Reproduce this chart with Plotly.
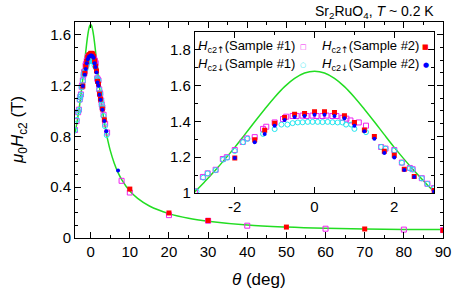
import plotly.graph_objects as go

# ---------------- data ----------------
# fitted (green) curve
theta_fit = [-4.0, -3.5, -3.0, -2.75, -2.5, -2.25, -2.0, -1.75, -1.5, -1.25, -1.0, -0.75, -0.5, -0.25, 0.0,
             0.25, 0.5, 0.75, 1.0, 1.25, 1.5, 1.75, 2.0, 2.25, 2.5, 2.75, 3.0, 3.5, 4.0, 4.5, 5.0, 6.0, 7.0,
             8.0, 10.0, 12.0, 15.0, 20.0, 25.0, 30.0, 40.0, 50.0, 60.0, 70.0, 80.0, 90.0]
hc2_fit = [0.824, 0.909, 1.008, 1.064, 1.124, 1.188, 1.255, 1.326, 1.398, 1.468, 1.535, 1.594, 1.640, 1.670, 1.680,
           1.670, 1.640, 1.594, 1.535, 1.468, 1.398, 1.326, 1.255, 1.188, 1.124, 1.064, 1.008, 0.909, 0.824, 0.752, 0.690, 0.591, 0.515,
           0.456, 0.370, 0.312, 0.252, 0.192, 0.155, 0.132, 0.102, 0.086, 0.076, 0.070, 0.067, 0.066]

# Hc2 up, sample #1 (magenta open squares)
theta_up1 = [-4.0, -3.6, -3.2, -3.0, -2.8, -2.68, -2.48, -2.3, -2.2, -2.0, -1.8, -1.7, -1.5, -1.29, -1.21, -1.0,
             -0.79, -0.71, -0.55, -0.45, -0.3, -0.2, -0.05, 0.05, 0.2, 0.3, 0.45, 0.55, 0.7, 0.8, 0.9, 1.11, 1.29,
             1.67, 1.78, 2.0, 2.19, 2.39, 2.46, 2.69, 2.83, 3.0, 3.3, 3.7, 4.2, 7.9, 10, 20, 30, 40, 60, 80, 90]
hc2_up1 = [0.85, 0.92, 0.99, 1.01, 1.09, 1.11, 1.13, 1.19, 1.20, 1.24, 1.285, 1.305, 1.312, 1.358, 1.37, 1.394,
           1.413, 1.426, 1.43, 1.43, 1.432, 1.43, 1.432, 1.43, 1.43, 1.432, 1.43, 1.43, 1.42, 1.415, 1.405, 1.394, 1.376,
           1.257, 1.248, 1.24, 1.17, 1.14, 1.133, 1.083, 1.052, 1.028, 0.97, 0.90, 0.83, 0.45, 0.358, 0.18, 0.136, 0.097, 0.073, 0.066, 0.062]

# Hc2 down, sample #1 (cyan open circles)
theta_dn1 = [-4.0, -3.5, -3.2, -2.96, -2.79, -2.68, -2.48, -2.29, -2.19, -2.0, -1.79, -1.68, -1.29, -1.0,
             -0.83, -0.68, -0.55, -0.42, -0.3, -0.17, -0.05, 0.08, 0.2, 0.33, 0.45, 0.58, 0.7, 0.79, 0.92, 1.0,
             1.29, 1.67, 1.78, 2.0, 2.19, 2.39, 2.46, 2.69, 2.83, 3.0, 3.3, 3.65, 4.1]
hc2_dn1 = [0.85, 0.93, 0.99, 1.009, 1.086, 1.11, 1.128, 1.187, 1.198, 1.235, 1.284, 1.303, 1.33, 1.357,
           1.382, 1.382, 1.39, 1.394, 1.395, 1.397, 1.397, 1.397, 1.396, 1.397, 1.395, 1.394, 1.394, 1.382, 1.382, 1.358,
           1.34, 1.257, 1.248, 1.238, 1.169, 1.138, 1.132, 1.082, 1.051, 1.027, 0.96, 0.88, 0.81]

# Hc2 up, sample #2 (red filled squares)
theta_up2 = [-2.0, -1.5, -1.25, -1.0, -0.75, -0.5, -0.25, 0.0, 0.25, 0.5, 0.75, 1.0, 1.25, 1.5, 1.75, 2.0,
             2.25, 2.5, 3.0, 3.5, 10, 20, 30, 50, 70, 90]
hc2_up2 = [1.196, 1.297, 1.35, 1.389, 1.422, 1.44, 1.444, 1.453, 1.453, 1.449, 1.431, 1.394, 1.352, 1.315, 1.233, 1.211,
           1.133, 1.093, 1.015, 0.93, 0.385, 0.197, 0.138, 0.086, 0.071, 0.060]

# Hc2 down, sample #2 (blue filled circles)
theta_dn2 = [-2.0, -1.5, -1.25, -1.0, -0.75, -0.5, -0.25, 0.0, 0.25, 0.5, 0.75, 1.0, 1.25, 1.5, 1.75, 2.0,
             2.25, 2.5, 3.0, 3.5, 4.0, 7.0]
hc2_dn2 = [1.196, 1.284, 1.33, 1.376, 1.407, 1.425, 1.43, 1.437, 1.437, 1.43, 1.418, 1.376, 1.345, 1.303, 1.224, 1.198,
           1.128, 1.089, 1.009, 0.92, 0.84, 0.531]

main_xticks = [0, 10, 20, 30, 40, 50, 60, 70, 80, 90]
main_yticks = [0, 0.4, 0.8, 1.2, 1.6]
main_ytext = ["0", "0.4", "0.8", "1.2", "1.6"]
inset_xticks = [-2, 0, 2]
inset_xtext = ["-2", "0", "2"]
inset_yticks = [1, 1.2, 1.4, 1.6, 1.8]
inset_ytext = ["1", "1.2", "1.4", "1.6", "1.8"]

GREEN = "#22dd22"
MAG = "#f022f0"
CYAN = "#22e6f0"
RED = "#ff0000"
BLUE = "#0000ff"

fig = go.Figure()

def add_set(xa, ya, msz):
    fig.add_trace(go.Scatter(x=theta_fit, y=hc2_fit, mode="lines", line=dict(color=GREEN, width=1.5, shape="spline"),
                             xaxis=xa, yaxis=ya, showlegend=False, hoverinfo="skip"))
    fig.add_trace(go.Scatter(x=theta_up1, y=hc2_up1, mode="markers",
                             marker=dict(symbol="square-open", color=MAG, size=msz, line=dict(width=1)),
                             xaxis=xa, yaxis=ya, showlegend=False))
    fig.add_trace(go.Scatter(x=theta_dn1, y=hc2_dn1, mode="markers",
                             marker=dict(symbol="circle-open", color=CYAN, size=msz, line=dict(width=1)),
                             xaxis=xa, yaxis=ya, showlegend=False))
    fig.add_trace(go.Scatter(x=theta_up2, y=hc2_up2, mode="markers",
                             marker=dict(symbol="square", color=RED, size=msz),
                             xaxis=xa, yaxis=ya, showlegend=False))
    fig.add_trace(go.Scatter(x=theta_dn2, y=hc2_dn2, mode="markers",
                             marker=dict(symbol="circle", color=BLUE, size=msz - 1),
                             xaxis=xa, yaxis=ya, showlegend=False))

add_set("x", "y", 5)
add_set("x2", "y2", 5)

FONT = "Liberation Sans, Arial, sans-serif"
axcommon = dict(showline=True, linecolor="black", linewidth=1, mirror="allticks", ticks="inside",
                ticklen=6, tickwidth=1, tickcolor="black", showgrid=False, zeroline=False, automargin=False,
                tickfont=dict(family=FONT, size=15, color="black"))

fig.update_layout(
    width=463, height=296,
    margin=dict(l=75, r=20, t=22, b=58, autoexpand=False),
    paper_bgcolor="white", plot_bgcolor="white",
    xaxis=dict(range=[-4, 90], tickvals=main_xticks, domain=[0, 1], anchor="y",
               minor=dict(dtick=5, tick0=0, ticks="inside", ticklen=3, tickcolor="black"), **axcommon),
    yaxis=dict(range=[0, 1.7], tickvals=main_yticks, ticktext=main_ytext, domain=[0, 1], anchor="x",
               minor=dict(dtick=0.1, tick0=0, ticks="inside", ticklen=3, tickcolor="black"), **axcommon),
    xaxis2=dict(range=[-3, 3], tickvals=inset_xticks, ticktext=inset_xtext, domain=[0.3258, 0.976], anchor="y2",
                minor=dict(dtick=1, tick0=0, ticks="inside", ticklen=3, tickcolor="black"), **axcommon),
    yaxis2=dict(range=[1, 1.9], tickvals=inset_yticks, ticktext=inset_ytext, domain=[0.208, 0.955], anchor="x2",
                minor=dict(dtick=0.1, tick0=0, ticks="inside", ticklen=3, tickcolor="black"), **axcommon),
    showlegend=False,
)

ann = []
ann.append(dict(text="<i>μ</i><sub>0</sub><i>H</i><sub>c2</sub> (T)", xref="paper", yref="paper",
                x=-0.152, y=0.5, textangle=-90, showarrow=False, xanchor="center", yanchor="middle",
                font=dict(family=FONT, size=17, color="black")))
ann.append(dict(text="<i>θ</i> (deg)", xref="paper", yref="paper", x=0.5, y=-0.193, showarrow=False,
                xanchor="center", yanchor="middle", font=dict(family=FONT, size=17, color="black")))
ann.append(dict(text="Sr<sub>2</sub>RuO<sub>4</sub>, <i>T</i> ~ 0.2 K", xref="paper", yref="paper",
                x=0.98, y=1.048, showarrow=False, xanchor="right", yanchor="middle",
                font=dict(family=FONT, size=14, color="black")))

ARW = "<span style='font-family:DejaVu Sans'>%s</span>"
leg_labels = ["<i>H</i><sub>c2" + ARW % "↑" + "</sub>(Sample #1)", "<i>H</i><sub>c2" + ARW % "↓" + "</sub>(Sample #1)",
              "<i>H</i><sub>c2" + ARW % "↑" + "</sub>(Sample #2)", "<i>H</i><sub>c2" + ARW % "↓" + "</sub>(Sample #2)"]
leg_syms = ["□", "○", "■", "●"]
leg_cols = [MAG, CYAN, RED, BLUE]
leg_x = [0.602, 0.602, 0.941, 0.941]
leg_sx = [0.620, 0.620, 0.953, 0.953]
leg_y = [0.886, 0.801, 0.886, 0.801]
for lab, sym, col, lx, sx, ly in zip(leg_labels, leg_syms, leg_cols, leg_x, leg_sx, leg_y):
    ann.append(dict(text=lab, xref="paper", yref="paper", x=lx, y=ly, showarrow=False, xanchor="right",
                    yanchor="middle", font=dict(family=FONT, size=13, color="black")))
    ann.append(dict(text=sym, xref="paper", yref="paper", x=sx, y=ly, showarrow=False, xanchor="center",
                    yanchor="middle", font=dict(family="DejaVu Sans", size=7, color=col)))
fig.update_layout(annotations=ann)

# remove the browser's default 8 px page margin so the figure sits at the window's corner
fig.write_html("out.html", config={"displayModeBar": False},
               post_script="document.body.style.margin='0';")
